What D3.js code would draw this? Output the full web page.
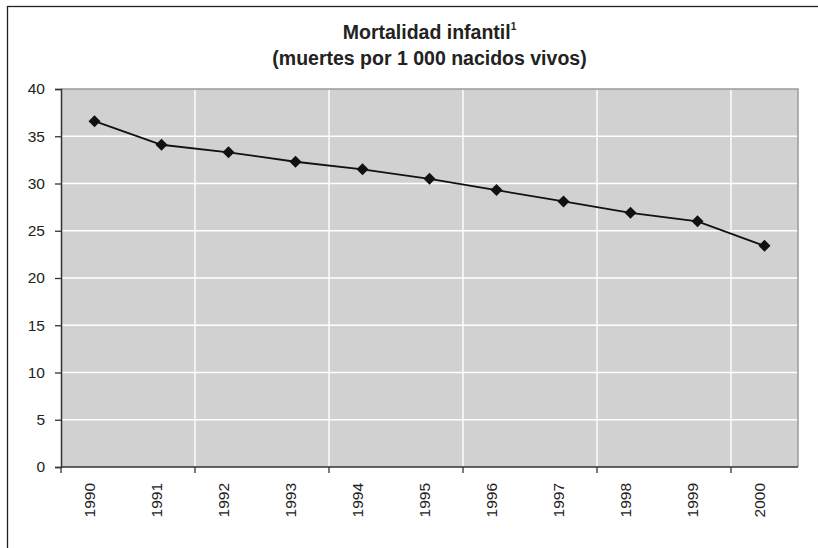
<!DOCTYPE html>
<html><head><meta charset="utf-8">
<script src="https://cdn.jsdelivr.net/npm/d3@7"></script>
<style>
html,body{margin:0;padding:0;background:#fff;overflow:hidden;}
text{font-family:"Liberation Sans",Arial,sans-serif;}
</style></head>
<body>
<svg id="c" width="818" height="548" style="display:block"></svg>
<script>
const years = ["1990","1991","1992","1993","1994","1995","1996","1997","1998","1999","2000"];
const mortality = [36.6, 34.1, 33.3, 32.3, 31.5, 30.5, 29.3, 28.1, 26.9, 26.0, 23.4];
const yTicks = [0, 5, 10, 15, 20, 25, 30, 35, 40];
const titleLines = ["Mortalidad infantil", "(muertes por 1 000 nacidos vivos)"];

const svg = d3.select("#c");
const m = {left: 61, right: 798, top: 89, bottom: 467};

svg.append("rect").attr("x", 7.5).attr("y", 6.5).attr("width", 840).attr("height", 580)
  .attr("fill", "#fff").attr("stroke", "#222").attr("stroke-width", 1.3);

const x = d3.scaleBand().domain(years).range([m.left, m.right]).padding(0);
const y = d3.scaleLinear().domain([0, 40]).range([m.bottom, m.top]);

// plot background
svg.append("rect").attr("x", m.left).attr("y", m.top)
  .attr("width", m.right - m.left).attr("height", m.bottom - m.top)
  .attr("fill", "#d1d1d1");

// horizontal gridlines
svg.append("g").selectAll("line").data(yTicks.filter(d => d > 0 && d < 40)).join("line")
  .attr("x1", m.left).attr("x2", m.right)
  .attr("y1", d => y(d)).attr("y2", d => y(d))
  .attr("stroke", "#fff").attr("stroke-width", 1.4);

// vertical gridlines every 2 categories
const tickCats = years.filter((d, i) => i % 2 === 0);
svg.append("g").selectAll("line").data(tickCats.slice(1)).join("line")
  .attr("x1", d => x(d)).attr("x2", d => x(d))
  .attr("y1", m.top).attr("y2", m.bottom)
  .attr("stroke", "#fff").attr("stroke-width", 1.4);

// plot border (top/right)
svg.append("path")
  .attr("d", `M${m.left},${m.top}H${m.right}V${m.bottom}`)
  .attr("fill", "none").attr("stroke", "#9a9a9a").attr("stroke-width", 1.5);

// y axis
const yAxis = d3.axisLeft(y).tickValues(yTicks).tickSize(6).tickPadding(10).tickFormat(d3.format("d"));
const gy = svg.append("g").attr("transform", `translate(${m.left},0)`).call(yAxis);
gy.select(".domain").attr("stroke", "#333").attr("stroke-width", 1.5);
gy.selectAll(".tick line").attr("stroke", "#333").attr("stroke-width", 1.3);
gy.selectAll("text").attr("font-size", 15.5).attr("fill", "#222")
  .attr("font-family", '"Liberation Sans",Arial,sans-serif');

// x axis line
svg.append("line").attr("x1", m.left).attr("x2", m.right)
  .attr("y1", m.bottom).attr("y2", m.bottom)
  .attr("stroke", "#333").attr("stroke-width", 1.5);
// x ticks
svg.append("g").selectAll("line").data(tickCats).join("line")
  .attr("x1", d => x(d)).attr("x2", d => x(d))
  .attr("y1", m.bottom).attr("y2", m.bottom + 6)
  .attr("stroke", "#333").attr("stroke-width", 1.3);
// x labels
svg.append("g").selectAll("text").data(years).join("text")
  .attr("transform", d => `translate(${x(d) + x.bandwidth() / 2 - 5},483) rotate(-90)`)
  .attr("text-anchor", "end").attr("dy", "0.35em")
  .attr("font-size", 15.5).attr("fill", "#222")
  .text(d => d);

// line
const line = d3.line().x((d, i) => x(years[i]) + x.bandwidth() / 2).y(d => y(d));
svg.append("path").datum(mortality).attr("d", line)
  .attr("fill", "none").attr("stroke", "#111").attr("stroke-width", 1.8);

// markers
const sym = d3.symbol().type(d3.symbolSquare).size(72);
svg.append("g").selectAll("path").data(mortality).join("path")
  .attr("d", sym)
  .attr("transform", (d, i) => `translate(${x(years[i]) + x.bandwidth() / 2},${y(d)}) rotate(45)`)
  .attr("fill", "#111");

// title
const cx = (m.left + m.right) / 2;
const t1 = svg.append("text").attr("x", cx).attr("y", 39).attr("text-anchor", "middle")
  .attr("font-size", 19.5).attr("font-weight", "bold").attr("fill", "#222");
t1.append("tspan").text(titleLines[0]);
t1.append("tspan").text("1").attr("font-size", 10).attr("dy", -9);
svg.append("text").attr("x", cx).attr("y", 65).attr("text-anchor", "middle")
  .attr("font-size", 19.5).attr("font-weight", "bold").attr("fill", "#222")
  .text(titleLines[1]);
</script>
</body></html>
